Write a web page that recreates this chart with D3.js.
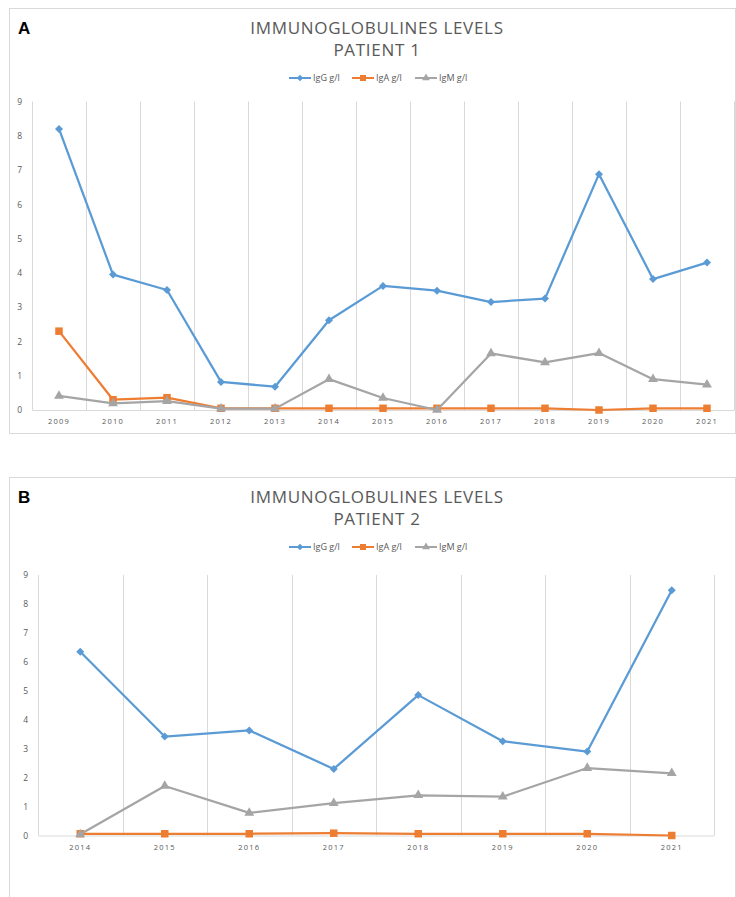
<!DOCTYPE html>
<html>
<head>
<meta charset="utf-8">
<script src="https://cdn.jsdelivr.net/npm/d3@7"></script>
<style>
  body { margin: 0; background: #fff; }
  svg text { font-family: "Open Sans", sans-serif; }
</style>
</head>
<body>
<svg id="chart" width="736" height="897"></svg>
<script>
// Patient 1
const years1 = ["2009","2010","2011","2012","2013","2014","2015","2016","2017","2018","2019","2020","2021"]
const igG1 = [8.2, 3.95, 3.5, 0.82, 0.68, 2.62, 3.62, 3.48, 3.15, 3.25, 6.88, 3.82, 4.3]
const igA1 = [2.3, 0.3, 0.36, 0.05, 0.05, 0.05, 0.05, 0.05, 0.05, 0.05, 0.0, 0.05, 0.05]
const igM1 = [0.41, 0.19, 0.26, 0.04, 0.04, 0.9, 0.35, 0.0, 1.65, 1.39, 1.66, 0.9, 0.74]

// Patient 2
const years2 = ["2014","2015","2016","2017","2018","2019","2020","2021"]
const igG2 = [6.35, 3.42, 3.63, 2.3, 4.85, 3.26, 2.9, 8.47]
const igA2 = [0.06, 0.06, 0.06, 0.08, 0.06, 0.06, 0.06, 0.0]
const igM2 = [0.04, 1.71, 0.78, 1.12, 1.39, 1.34, 2.33, 2.15]

const yTicks = [0, 1, 2, 3, 4, 5, 6, 7, 8, 9]
const seriesNames = ["IgG g/l", "IgA g/l", "IgM g/l"]
const seriesColors = ["#5b9bd5", "#ed7d31", "#a5a5a5"]
const seriesSymbols = ["diamond", "square", "triangle"]

const svg = d3.select("#chart")

function marker(g, kind, color) {
    if (kind == "diamond") {
        g.append("path")
            .attr("d", d3.symbol(d3.symbolSquare, 32)())
            .attr("transform", "rotate(45)")
            .attr("fill", color)
    } else if (kind == "square") {
        g.append("path")
            .attr("d", d3.symbol(d3.symbolSquare, 56)())
            .attr("fill", color)
    } else {
        g.append("path")
            .attr("d", d3.symbol(d3.symbolTriangle, 42)())
            .attr("fill", color)
    }
}

function drawPanel(p) {
    const g = svg.append("g")

    // frame
    g.append("rect")
        .attr("x", p.frame[0] + 0.5).attr("y", p.frame[1] + 0.5)
        .attr("width", p.frame[2]).attr("height", p.frame[3])
        .attr("fill", "none").attr("stroke", "#d9d9d9")

    g.append("text")
        .attr("x", 18).attr("y", p.frame[1] + 26)
        .attr("font-size", 17).attr("font-weight", 700)
        .attr("fill", "#000")
        .style("font-family", "Liberation Sans, Arial, sans-serif")
        .text(p.letter)

    // title
    const tx = 377
    g.append("text")
        .attr("x", tx).attr("y", p.frame[1] + 26)
        .attr("text-anchor", "middle").attr("font-size", 17)
        .attr("letter-spacing", 0.7)
        .attr("fill", "#595959")
        .text("IMMUNOGLOBULINES LEVELS")
    g.append("text")
        .attr("x", tx).attr("y", p.frame[1] + 48)
        .attr("text-anchor", "middle").attr("font-size", 17)
        .attr("letter-spacing", 0.7)
        .attr("fill", "#595959")
        .text(p.subtitle)

    // legend
    const legendX = [289, 352, 415]
    const ly = p.frame[1] + 70
    seriesNames.forEach(function (name, i) {
        const lg = g.append("g").attr("transform", "translate(" + legendX[i] + "," + ly + ")")
        lg.append("line")
            .attr("x1", 0).attr("x2", 22).attr("y1", 0).attr("y2", 0)
            .attr("stroke", seriesColors[i]).attr("stroke-width", 2)
        const mg = lg.append("g").attr("transform", "translate(11,0) scale(0.8)")
        marker(mg, seriesSymbols[i], seriesColors[i])
        lg.append("text")
            .attr("x", 24).attr("y", 3)
            .attr("font-size", 9).attr("fill", "#595959")
            .text(name)
    })

    const x = d3.scaleBand()
        .domain(p.years)
        .range([p.left, p.right])
        .padding(0)
    const y = d3.scaleLinear()
        .domain([0, 9])
        .range([p.bottom, p.top])

    // vertical gridlines at category boundaries
    const bounds = p.years.map(d => x(d)).concat([p.right])
    g.selectAll("line.grid")
        .data(bounds)
        .join("line")
        .attr("class", "grid")
        .attr("x1", d => Math.round(d) + 0.5).attr("x2", d => Math.round(d) + 0.5)
        .attr("y1", p.top).attr("y2", p.bottom)
        .attr("stroke", "#d9d9d9").attr("stroke-width", 1)

    // x axis
    const xAxis = g.append("g")
        .attr("transform", "translate(0," + p.bottom + ")")
        .call(d3.axisBottom(x).tickSize(0).tickPadding(9))
    xAxis.select(".domain").attr("stroke", "#d9d9d9")
    xAxis.selectAll("text")
        .attr("font-size", 7.5).attr("fill", "#595959")
        .attr("letter-spacing", 1.2)
        .style("font-family", "Open Sans, sans-serif")

    // y axis
    const yAxis = g.append("g")
        .attr("transform", "translate(" + p.left + ",0)")
        .call(d3.axisLeft(y).tickValues(yTicks).tickSize(0).tickPadding(p.ypad))
    yAxis.select(".domain").remove()
    yAxis.selectAll("text")
        .attr("font-size", 8.5).attr("fill", "#595959")
        .style("font-family", "Open Sans, sans-serif")

    // series
    const cx = d => x(d) + x.bandwidth() / 2
    p.series.forEach(function (vals, i) {
        const pts = vals.map((v, j) => [cx(p.years[j]), y(v)])
        g.append("path")
            .datum(pts)
            .attr("d", d3.line())
            .attr("fill", "none")
            .attr("stroke", seriesColors[i])
            .attr("stroke-width", 2.25)
            .attr("stroke-linejoin", "round")
        pts.forEach(function (pt) {
            const mg = g.append("g").attr("transform", "translate(" + pt[0] + "," + pt[1] + ")")
            marker(mg, seriesSymbols[i], seriesColors[i])
        })
    })
}

drawPanel({
    letter: "A", subtitle: "PATIENT 1",
    frame: [9, 8, 726, 425],
    years: years1, series: [igG1, igA1, igM1],
    left: 32, right: 734, top: 101.5, bottom: 410, ypad: 10
})

drawPanel({
    letter: "B", subtitle: "PATIENT 2",
    frame: [9, 477, 726, 430],
    years: years2, series: [igG2, igA2, igM2],
    left: 38, right: 714, top: 575, bottom: 835.5, ypad: 10
})
</script>
</body>
</html>
